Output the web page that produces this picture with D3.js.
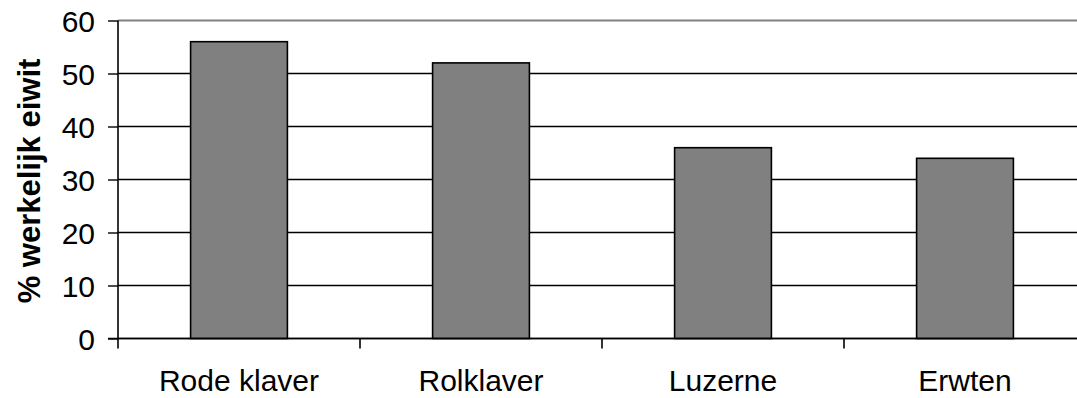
<!DOCTYPE html>
<html>
<head>
<meta charset="utf-8">
<script src="https://cdn.jsdelivr.net/npm/d3@7"></script>
<style>
  html, body { margin: 0; padding: 0; background: #fff; }
  svg { display: block; font-family: "Liberation Sans", Arial, sans-serif; }
</style>
</head>
<body>
<svg id="chart" width="1077" height="398"></svg>
<script>
// Share of true protein per crop
const categories = ["Rode klaver", "Rolklaver", "Luzerne", "Erwten"];
const values = [56, 52, 36, 34];
const yTicks = [0, 10, 20, 30, 40, 50, 60];
const yTitle = "% werkelijk eiwit";

const svg = d3.select("#chart");
const margin = { left: 118, top: 20.5, bottom: 59.5 };
const bandWidth = 242;
const plotW = bandWidth * categories.length;
const plotH = 398 - margin.top - margin.bottom;

const x = d3.scaleBand()
  .domain(categories)
  .range([margin.left, margin.left + plotW])
  .paddingInner(0.6)
  .paddingOuter(0.3);

const xBoundary = d3.scaleLinear()
  .domain([0, categories.length])
  .range([margin.left, margin.left + plotW]);

const y = d3.scaleLinear()
  .domain([0, 60])
  .range([margin.top + plotH, margin.top]);

// Horizontal gridlines (top one is the plot border, drawn grey)
svg.append("g")
  .selectAll("line")
  .data(yTicks)
  .join("line")
  .attr("x1", margin.left)
  .attr("x2", margin.left + plotW)
  .attr("y1", d => y(d))
  .attr("y2", d => y(d))
  .attr("stroke", d => d === 60 ? "#808080" : "#000")
  .attr("stroke-width", d => d === 60 ? 2.2 : 1.4);

// Bars
svg.append("g")
  .selectAll("rect")
  .data(categories)
  .join("rect")
  .attr("x", d => x(d))
  .attr("width", x.bandwidth())
  .attr("y", (d, i) => y(values[i]))
  .attr("height", (d, i) => y(0) - y(values[i]))
  .attr("fill", "#808080")
  .attr("stroke", "#000")
  .attr("stroke-width", 1.6);

// Y axis
const yAxis = d3.axisLeft(y)
  .tickValues(yTicks)
  .tickSize(10)
  .tickPadding(13)
  .tickFormat(d3.format("d"));
const gy = svg.append("g")
  .attr("transform", `translate(${margin.left},0)`)
  .call(yAxis);
gy.select(".domain").attr("stroke", "#000").attr("stroke-width", 1.6)
  .attr("d", `M0,${y(60)}V${y(0)}`);
gy.selectAll(".tick line").attr("stroke", "#000").attr("stroke-width", 1.4);
gy.selectAll(".tick text")
  .attr("font-size", 30)
  .attr("dy", "0.38em")
  .attr("fill", "#000")
  .attr("font-family", "'Liberation Sans', Arial, sans-serif");

// X axis baseline with ticks at category boundaries
const gx = svg.append("g");
gx.append("line")
  .attr("x1", margin.left - 10)
  .attr("x2", margin.left + plotW)
  .attr("y1", y(0))
  .attr("y2", y(0))
  .attr("stroke", "#000")
  .attr("stroke-width", 1.6);
gx.selectAll("line.tick")
  .data(d3.range(categories.length + 1))
  .join("line")
  .attr("class", "tick")
  .attr("x1", d => xBoundary(d))
  .attr("x2", d => xBoundary(d))
  .attr("y1", y(0))
  .attr("y2", y(0) + 10)
  .attr("stroke", "#000")
  .attr("stroke-width", 1.6);
gx.selectAll("text")
  .data(categories)
  .join("text")
  .attr("x", d => x(d) + x.bandwidth() / 2)
  .attr("y", 391)
  .attr("text-anchor", "middle")
  .attr("font-size", 30)
  .attr("fill", "#000")
  .text(d => d);

// Y axis title
svg.append("text")
  .attr("transform", `translate(40,181) rotate(-90)`)
  .attr("text-anchor", "middle")
  .attr("font-size", 31)
  .attr("font-weight", "bold")
  .attr("fill", "#000")
  .text(yTitle);
</script>
</body>
</html>
